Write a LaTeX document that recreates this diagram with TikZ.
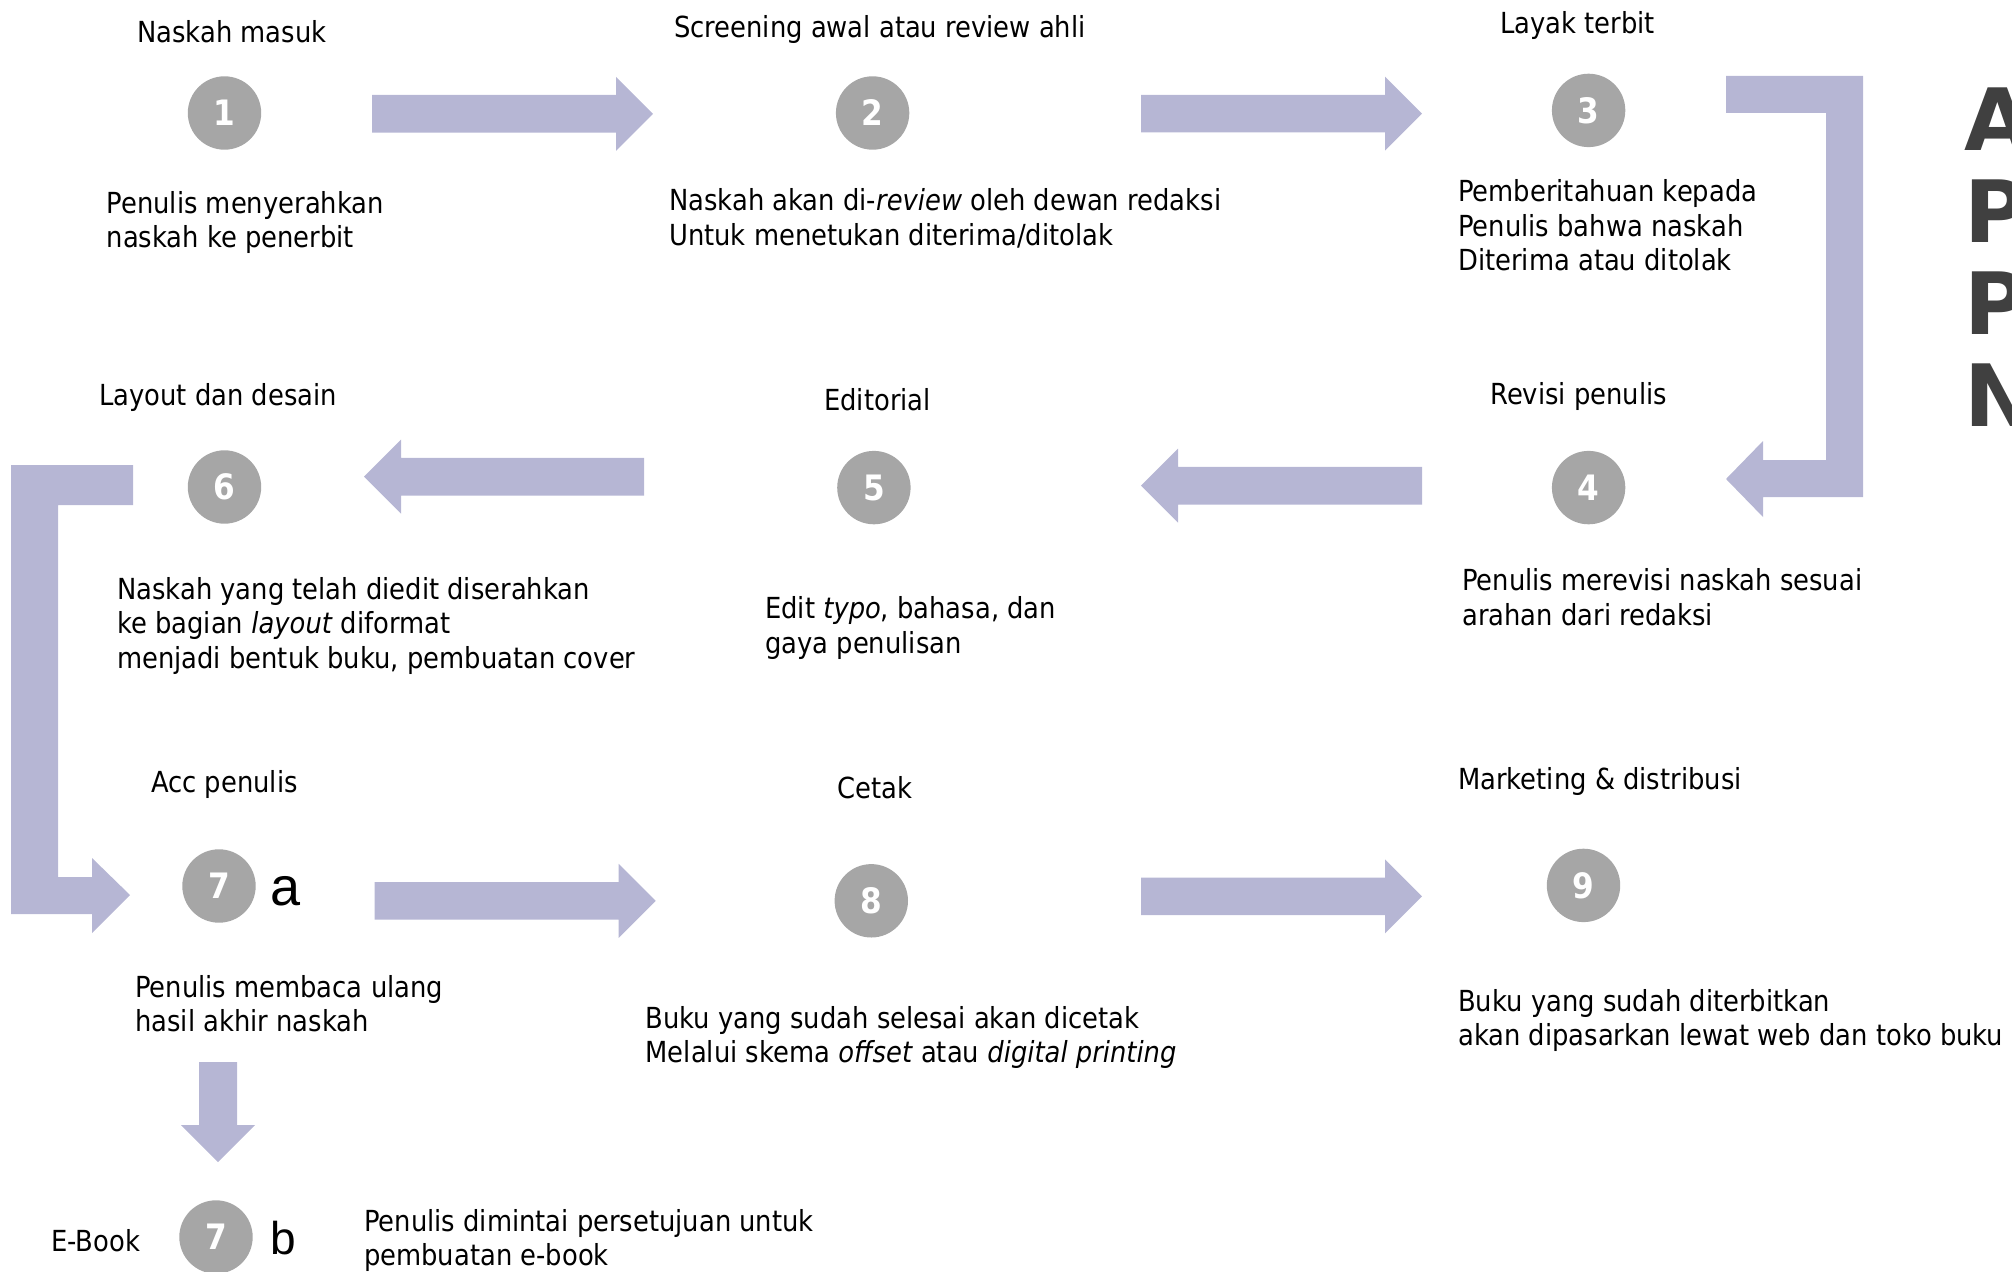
\documentclass[tikz,border=0pt]{standalone}
\usepackage{fontspec}
\setmainfont{DejaVu Sans}[FakeStretch=0.89]
\newfontfamily\bigletters{DejaVu Sans}
\newfontfamily\abfont{Liberation Sans}

\definecolor{arrowblue}{RGB}{182,182,212}
\definecolor{numgray}{RGB}{166,166,166}
\definecolor{titlegray}{RGB}{64,64,64}

% horizontal block arrow: tail x, tip x, centre y
\newcommand{\harrow}[3]{%
  \pgfmathsetmacro{\hb}{#2>#1 ? #2-37 : #2+37}%
  \fill[blockarrow] (#1,#3-18.8) -- (\hb,#3-18.8) -- (\hb,#3-37) -- (#2,#3)
    -- (\hb,#3+37) -- (\hb,#3+18.8) -- (#1,#3+18.8) -- cycle;}

\begin{document}
\begin{tikzpicture}[x=1pt,y=-1pt,
  numcircle/.style={circle,fill=numgray,minimum size=73.4pt,inner sep=0pt,
    text=white,font=\fontsize{35}{35}\selectfont\bfseries},
  caption/.style={anchor=base west,inner sep=0pt,align=left,
    font=\fontsize{29}{34.6}\selectfont},
  blockarrow/.style={fill=arrowblue}]
\useasboundingbox (0,0) rectangle (2012,1271);

% numbered steps
\foreach \name/\num/\x/\y in {n1/1/224.5/113, n2/2/872.6/113, n3/3/1588.6/110.4,
    n4/4/1588.6/487.6, n5/5/873.9/487.6, n6/6/224.5/487,
    n7a/7/219/886, n8/8/871.3/900.8, n9/9/1583.5/885.4, n7b/7/216/1237} {
  \node[numcircle] (\name) at (\x,\y) {\num};
}
\node[anchor=base west,inner sep=0pt,font=\abfont\fontsize{54}{54}\selectfont] (suba) at (270,905) {a};
\node[anchor=base west,inner sep=0pt,font=\abfont\fontsize{46}{46}\selectfont] (subb) at (270,1254) {b};

% arrows
\harrow{372}{653}{113.8}
\harrow{1141}{1422}{113.6}
\harrow{1422}{1141}{485.7}
\harrow{644}{364}{476.7}
\harrow{374.7}{655.7}{900.8}
\harrow{1141}{1422}{896.3}
\fill[blockarrow] (1726,76) -- (1863,76) -- (1863,497) -- (1763,497) -- (1763,517)
  -- (1726,479) -- (1763,441) -- (1763,460) -- (1826,460) -- (1826,113)
  -- (1726,113) -- cycle;
\fill[blockarrow] (133,465) -- (11,465) -- (11,914) -- (92,914) -- (92,933)
  -- (130,895) -- (92,858) -- (92,877) -- (58,877) -- (58,505) -- (133,505) -- cycle;
\fill[blockarrow] (199,1062) -- (237,1062) -- (237,1125) -- (255,1125)
  -- (218,1162) -- (181,1125) -- (199,1125) -- cycle;

% titles and descriptions (y = baseline of the last line)
\node[caption] (t1) at (137,42.8) {Naskah masuk};
\node[caption] (t2) at (674,37.9) {Screening awal atau review ahli};
\node[caption] (t3) at (1500,33.9) {Layak terbit};
\node[caption] (d1) at (106.5,247.9) {Penulis menyerahkan\\naskah ke penerbit};
\node[caption] (d2) at (669,245.2) {Naskah akan di-\textit{review} oleh dewan redaksi\\Untuk menetukan diterima/ditolak};
\node[caption] (d3) at (1458,270.8) {Pemberitahuan kepada\\Penulis bahwa naskah\\Diterima atau ditolak};
\node[caption] (t6) at (99,405.6) {Layout dan desain};
\node[caption] (t5) at (824,410.6) {Editorial};
\node[caption] (t4) at (1490,404.4) {Revisi penulis};
\node[caption] (d6) at (117,668.5) {Naskah yang telah diedit diserahkan\\ke bagian \textit{layout} diformat\\menjadi bentuk buku, pembuatan cover};
\node[caption] (d5) at (765,653.2) {Edit \textit{typo}, bahasa, dan\\gaya penulisan};
\node[caption] (d4) at (1462,625.2) {Penulis merevisi naskah sesuai\\arahan dari redaksi};
\node[caption] (t7) at (151,792) {Acc penulis};
\node[caption] (t8) at (837,798.6) {Cetak};
\node[caption] (t9) at (1458,789.6) {Marketing \& distribusi};
\node[caption] (d7) at (135,1031.9) {Penulis membaca ulang\\hasil akhir naskah};
\node[caption] (d8) at (645.5,1062.9) {Buku yang sudah selesai akan dicetak\\Melalui skema \textit{offset} atau \textit{digital printing}};
\node[caption] (d9) at (1458,1045.6) {Buku yang sudah diterbitkan\\akan dipasarkan lewat web dan toko buku};
\node[caption] (ebook) at (51,1251.3) {E-Book};
\node[caption] (d7b) at (364,1265.9) {Penulis dimintai persetujuan untuk\\pembuatan e-book};

% side title
\node[anchor=base west,inner sep=0pt,align=left,text=titlegray,
  font=\bigletters\bfseries\fontsize{86}{92}\selectfont] (side) at (1964,426) {A\\P\\P\\N};
\end{tikzpicture}
\end{document}
